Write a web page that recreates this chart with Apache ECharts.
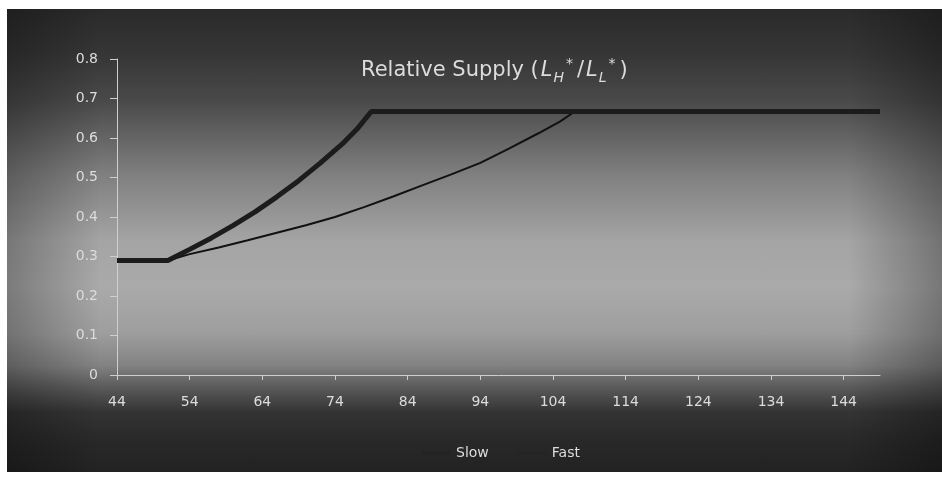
<!DOCTYPE html>
<html>
<head>
<meta charset="utf-8">
<script src="https://cdn.jsdelivr.net/npm/echarts@6/dist/echarts.min.js"></script>
<style>
  html, body { margin: 0; padding: 0; background: #ffffff; }
  #panel {
    position: absolute; left: 7px; top: 9px; width: 935px; height: 463px;
    background:
      linear-gradient(to right, rgba(0,0,0,0.28) 0%, rgba(0,0,0,0) 10%, rgba(0,0,0,0) 90%, rgba(0,0,0,0.3) 100%),
      linear-gradient(to bottom, #2a2a2a 0%, #363636 10%, #4a4a4a 20%, #808080 36%, #a4a4a4 50%, #aaaaaa 60%, #9e9e9e 70%, #828282 77%, #585858 82%, #343434 87%, #292929 93%, #222222 100%);
  }
  #chart { position: absolute; left: 0; top: 0; width: 942px; height: 478px; }
</style>
</head>
<body>
<div id="panel"></div>
<div id="chart"></div>
<script>
// Relative supply of high- vs low-skill labour over the horizon, two adjustment speeds
const xTicks = [44, 54, 64, 74, 84, 94, 104, 114, 124, 134, 144];

const slowX = [44, 51, 54, 58, 62, 66, 70, 74, 78, 82, 86, 90, 94, 98, 102, 105, 107, 149];
const slowY = [0.29, 0.29, 0.306, 0.323, 0.341, 0.360, 0.379, 0.400, 0.425, 0.452, 0.480, 0.508, 0.537, 0.574, 0.612, 0.642, 0.667, 0.667];

const fastX = [44, 51, 54, 57, 60, 63, 66, 69, 72, 75, 77, 79, 149];
const fastY = [0.29, 0.29, 0.318, 0.347, 0.379, 0.413, 0.451, 0.492, 0.537, 0.585, 0.622, 0.667, 0.667];

const pairs = (xs, ys) => xs.map((x, i) => [x, ys[i]]);

const textColor = '#dcdcdc';
const fontFam = '"DejaVu Sans", "Open Sans", sans-serif';

const chart = echarts.init(document.getElementById('chart'), null, { renderer: 'canvas' });
chart.setOption({
  backgroundColor: 'transparent',
  animation: false,
  title: {
    left: 356, top: 52,
    text: 'Relative Supply ({i|L}{sub|H}{sup|*}/{i|L}{sub|L}{sup|*})',
    textStyle: {
      color: textColor, fontSize: 21, fontWeight: 'normal', fontFamily: fontFam, lineHeight: 28,
      rich: {
        i: { color: textColor, fontSize: 21, fontStyle: 'italic', fontFamily: fontFam, lineHeight: 28, padding: [0, 1, 0, 2] },
        sub: { color: textColor, fontSize: 14, fontStyle: 'italic', fontFamily: fontFam, lineHeight: 28, verticalAlign: 'bottom', padding: [0, 1, 0, 0] },
        sup: { color: textColor, fontSize: 14, fontFamily: fontFam, lineHeight: 28, verticalAlign: 'top', padding: [0, 4, 0, 1] }
      }
    }
  },
  legend: {
    left: 416, top: 441,
    itemWidth: 30, itemHeight: 3, itemGap: 28,
    icon: 'rect',
    itemStyle: { opacity: 0.15 },
    textStyle: { color: textColor, fontSize: 14, fontFamily: fontFam },
    data: ['Slow', 'Fast']
  },
  grid: { left: 117, right: 62, top: 59, bottom: 103, containLabel: false },
  xAxis: {
    type: 'value', min: 44, max: 149,
    axisLine: { lineStyle: { color: '#cfcfcf', width: 1 } },
    axisTick: { show: true, length: 5, customValues: xTicks, lineStyle: { color: '#cfcfcf' } },
    axisLabel: { customValues: xTicks, color: textColor, fontSize: 14, fontFamily: fontFam, margin: 20 },
    splitLine: { show: false }
  },
  yAxis: {
    type: 'value', min: 0, max: 0.8, interval: 0.1,
    axisLine: { show: true, lineStyle: { color: '#cfcfcf', width: 1 } },
    axisTick: { show: true, length: 7, lineStyle: { color: '#cfcfcf' } },
    axisLabel: { color: textColor, fontSize: 14, fontFamily: fontFam, margin: 19,
      formatter: v => String(Math.round(v * 10) / 10) },
    splitLine: { show: false }
  },
  series: [
    {
      name: 'Slow', type: 'line', showSymbol: false, smooth: false,
      data: pairs(slowX, slowY),
      lineStyle: { color: '#111111', width: 2 },
      itemStyle: { color: '#111111' },
      z: 2
    },
    {
      name: 'Fast', type: 'line', showSymbol: false, smooth: false,
      data: pairs(fastX, fastY),
      lineStyle: { color: '#1c1c1c', width: 5 },
      itemStyle: { color: '#1c1c1c' },
      z: 3
    }
  ]
});
</script>
</body>
</html>
